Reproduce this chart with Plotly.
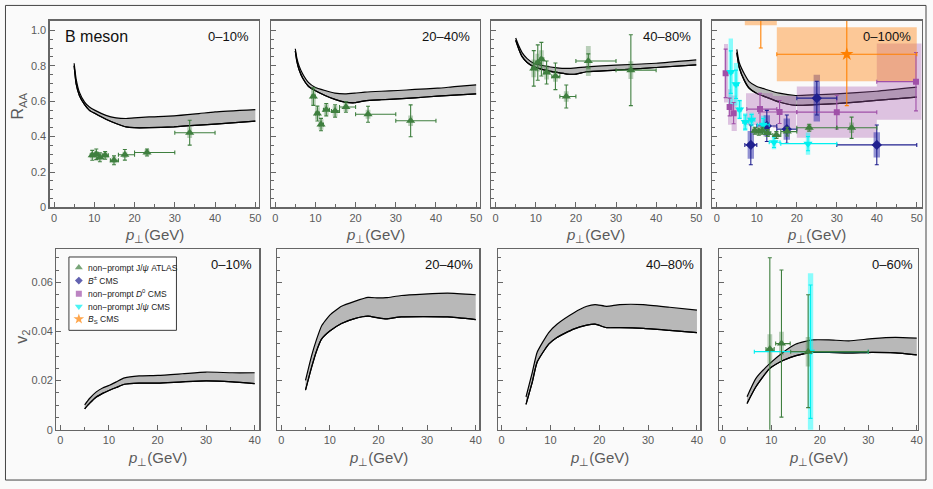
import plotly.graph_objects as go

W, H = 933, 489
FONT = "Liberation Sans, Arial, sans-serif"
FRAME = "#666666"
TICKC = "#5a5a5a"
BG = "#fafafa"
BAND = "#b8b8b8"

# ---------------- theory bands: R_AA ----------------
raa_c1_x = [5, 5.5, 6.3, 7.6, 8.8, 10.2, 12.9, 15.4, 17.9, 19.9, 23.6, 29.8, 36, 40, 50]
raa_c1_up = [0.814, 0.725, 0.651, 0.595, 0.567, 0.548, 0.52, 0.506, 0.502, 0.506, 0.511, 0.517, 0.53, 0.539, 0.552]
raa_c1_lo = [0.80, 0.697, 0.632, 0.58, 0.548, 0.53, 0.498, 0.474, 0.455, 0.45, 0.45, 0.455, 0.465, 0.47, 0.487]

raa_c2_x = [5, 5.36, 5.94, 6.85, 8.25, 9.9, 12.4, 14.85, 17.3, 19.8, 22.3, 26.4, 30.5, 34.7, 40.4, 44.6, 50]
raa_c2_up = [0.896, 0.846, 0.799, 0.753, 0.706, 0.679, 0.66, 0.645, 0.641, 0.645, 0.651, 0.656, 0.66, 0.666, 0.673, 0.682, 0.692]
raa_c2_lo = [0.883, 0.827, 0.777, 0.729, 0.684, 0.66, 0.632, 0.61, 0.595, 0.591, 0.602, 0.608, 0.613, 0.619, 0.628, 0.634, 0.641]

raa_c3_x = [5, 5.8, 6.6, 7.85, 9.5, 12, 15.3, 17.8, 20.1, 22.7, 30, 40, 50]
raa_c3_up = [0.957, 0.911, 0.874, 0.84, 0.814, 0.8, 0.788, 0.785, 0.788, 0.794, 0.803, 0.814, 0.833]
raa_c3_lo = [0.944, 0.892, 0.851, 0.818, 0.794, 0.777, 0.762, 0.753, 0.753, 0.766, 0.775, 0.79, 0.805]

raa_c4_x = [5, 5.6, 6.9, 8.1, 9.9, 12.3, 15.6, 19.7, 24.7, 29.9, 39.9, 50]
raa_c4_up = [0.892, 0.818, 0.753, 0.71, 0.684, 0.666, 0.645, 0.632, 0.636, 0.641, 0.656, 0.679]
raa_c4_lo = [0.874, 0.79, 0.716, 0.673, 0.645, 0.623, 0.595, 0.576, 0.58, 0.586, 0.604, 0.623]

# ---------------- theory bands: v2 ----------------
v2_c1_x = [5, 6, 7.4, 8.7, 10.1, 11.5, 13.2, 16.2, 20.1, 25.1, 30, 35.4, 40]
v2_c1_up = [0.0101, 0.0127, 0.0154, 0.017, 0.0181, 0.0195, 0.0211, 0.0219, 0.0221, 0.0228, 0.0235, 0.0232, 0.0232]
v2_c1_lo = [0.0085, 0.0107, 0.0133, 0.0148, 0.0161, 0.0172, 0.0185, 0.019, 0.019, 0.0195, 0.0199, 0.0195, 0.0188]

v2_c2_x = [5, 6.26, 7.29, 8.3, 10, 12.4, 15.1, 17.85, 19.9, 21.6, 24.7, 34.2, 40]
v2_c2_up = [0.0201, 0.0302, 0.0369, 0.0423, 0.0467, 0.0503, 0.0523, 0.0539, 0.0537, 0.0538, 0.0547, 0.0557, 0.055]
v2_c2_lo = [0.0161, 0.0255, 0.0322, 0.0369, 0.0402, 0.0433, 0.0453, 0.0463, 0.0456, 0.0452, 0.046, 0.046, 0.0449]

v2_c3_x = [5, 6.3, 7.27, 9.65, 11.34, 14.74, 17.45, 19.15, 21.5, 24.2, 29, 34.4, 40]
v2_c3_up = [0.0134, 0.0235, 0.0315, 0.0396, 0.043, 0.0476, 0.0503, 0.051, 0.0503, 0.051, 0.051, 0.0499, 0.0487]
v2_c3_lo = [0.0103, 0.0195, 0.0275, 0.0349, 0.0376, 0.041, 0.0426, 0.043, 0.0416, 0.0416, 0.0413, 0.0405, 0.0396]

v2_c4_x = [5, 6.8, 9.6, 12.4, 15.1, 18.5, 21.9, 26, 30.8, 35.6, 40]
v2_c4_up = [0.0134, 0.0208, 0.0268, 0.0315, 0.0349, 0.0366, 0.0366, 0.0362, 0.0371, 0.0376, 0.0373]
v2_c4_lo = [0.0107, 0.0174, 0.0248, 0.0282, 0.0302, 0.0315, 0.0315, 0.0313, 0.0315, 0.0313, 0.0305]

# ---------------- ATLAS non-prompt J/psi R_AA ----------------
atlas_x = [9.5, 10.5, 11.4, 12.7, 14.9, 17.6, 23.1, 33.7]
atlas_xm = [0.5, 0.5, 0.4, 0.7, 0.9, 1.6, 3.1, 3.7]
atlas_xp = [0.5, 0.5, 0.6, 0.8, 1.1, 2.4, 6.9, 6.3]
atlas_c1_y = [0.294, 0.30, 0.283, 0.294, 0.266, 0.297, 0.31, 0.422]
atlas_c1_stat = [0.028, 0.03, 0.025, 0.022, 0.025, 0.03, 0.02, 0.07]
atlas_c1_sys = [0.018, 0.018, 0.018, 0.018, 0.018, 0.018, 0.018, 0.03]
atlas_c2_y = [0.626, 0.53, 0.468, 0.552, 0.545, 0.567, 0.526, 0.489]
atlas_c2_stat = [0.05, 0.042, 0.035, 0.035, 0.035, 0.03, 0.045, 0.09]
atlas_c2_sys = [0.05, 0.035, 0.03, 0.03, 0.03, 0.025, 0.025, 0.03]
atlas_c3_y = [0.785, 0.818, 0.837, 0.762, 0.74, 0.626, 0.827, 0.775]
atlas_c3_stat = [0.1, 0.1, 0.095, 0.065, 0.075, 0.065, 0.04, 0.2]
atlas_c3_sys = [0.05, 0.05, 0.05, 0.04, 0.03, 0.03, 0.085, 0.05]
atlas_c4_y = [0.433, 0.428, 0.433, 0.42, 0.409, 0.428, 0.45, 0.45]
atlas_c4_stat = [0.02, 0.02, 0.02, 0.02, 0.02, 0.025, 0.02, 0.06]
atlas_c4_sys = [0.02, 0.02, 0.02, 0.02, 0.02, 0.02, 0.02, 0.03]
atlas_box_hw = 0.6

# ---------------- CMS B+- R_AA (0-100%) ----------------
bpm_x = [8.5, 12.5, 17.5, 25, 40]
bpm_xe = [1.5, 2.5, 2.5, 5, 10]
bpm_y = [0.353, 0.46, 0.442, 0.617, 0.353]
bpm_stat = [0.112, 0.088, 0.08, 0.095, 0.112]
bpm_sys = [0.078, 0.06, 0.06, 0.132, 0.071]
bpm_box_hw = 0.8

# ---------------- CMS non-prompt D0 R_AA (0-100%) ----------------
d0_x = [2.2, 3.2, 4.2, 10.8, 15.7, 30.0, 49.8]
d0_y = [0.757, 0.567, 0.532, 0.555, 0.539, 0.538, 0.71]
d0_stat = [0.137, 0.05, 0.06, 0.09, 0.065, 0.095, 0.165]
d0_xm = [0.2, 0.4, 0.5, 3.3, 5.2, 10, 9.8]
d0_xp = [0.2, 0.4, 0.5, 4.2, 4.3, 10, 0.2]
d0_box_lo = [1.8, 2.8, 3.7, 7.3, 14.0, 20, 40]
d0_box_hi = [2.8, 3.7, 5.0, 14.0, 19.8, 40, 52]
d0_sys = [0.165, 0.1, 0.1, 0.09, 0.09, 0.145, 0.215]

# ---------------- CMS non-prompt J/psi R_AA (0-100%) ----------------
cjp_x = [3.5, 4.8, 5.7, 7.1, 8.7, 11.6, 14.3, 22.8]
cjp_y = [0.764, 0.695, 0.553, 0.482, 0.495, 0.467, 0.368, 0.36]
cjp_stat = [0.12, 0.08, 0.05, 0.04, 0.03, 0.035, 0.03, 0.04]
cjp_xm = [0.5, 0.5, 0.5, 0.6, 0.7, 1.5, 1.2, 6.8]
cjp_xp = [0.5, 0.6, 0.5, 0.9, 0.8, 1.5, 1.5, 7.2]
cjp_sys = [0.19, 0.12, 0.055, 0.05, 0.04, 0.05, 0.04, 0.063]
cjp_box_hw = 0.55

# ---------------- CMS Bs R_AA (0-100%) ----------------
bs_x = [11, 32.5]
bs_xe = [4, 17.5]
bs_y = [1.12, 0.865]
bs_stat = [0.22, 0.29]
bs_sys = [0.092, 0.152]

# ---------------- v2 data (0-60%) ----------------
atlas_v2_x = [9.7, 12.1, 17.6]
atlas_v2_xm = [0.8, 1.2, 3.6]
atlas_v2_xp = [0.9, 1.8, 12.4]
atlas_v2_y = [0.0329, 0.0351, 0.0318]
atlas_v2_statp = [0.0372, 0.030, 0.0232]
atlas_v2_statm = [0.034, 0.030, 0.0228]
atlas_v2_sys = [0.006, 0.0048, 0.006]
atlas_v2_box_hw = 0.5

cjp_v2_x = [18.1]
cjp_v2_xm = [11.6]
cjp_v2_xp = [11.9]
cjp_v2_y = [0.0318]
cjp_v2_stat = [0.0272]
cjp_v2_sys = [0.032]
cjp_v2_box_hw = 0.55

# ---------------- colours ----------------
GREEN = "#3f7f3f"
GREEN_BOX = "rgba(63,127,63,0.35)"
BLUE = "#20208f"
BLUE_BOX = "rgba(40,40,170,0.5)"
PURPLE = "#a050a8"
PURPLE_BOX = "rgba(165,90,175,0.35)"
CYAN = "#00f0f0"
CYAN_BOX = "rgba(0,255,255,0.45)"
ORANGE = "#ff8000"
ORANGE_BOX = "rgba(255,140,30,0.45)"

fig = go.Figure()


def axn(i):
    return ("x", "y") if i == 1 else (f"x{i}", f"y{i}")


def band(i, x, up, lo):
    xa, ya = axn(i)
    ln = dict(color="black", width=1.2, shape="spline", smoothing=0.5)
    fig.add_trace(go.Scatter(x=x, y=lo, mode="lines", line=ln, xaxis=xa, yaxis=ya,
                             hoverinfo="skip", showlegend=False))
    fig.add_trace(go.Scatter(x=x, y=up, mode="lines", line=ln, fill="tonexty", fillcolor=BAND,
                             xaxis=xa, yaxis=ya, hoverinfo="skip", showlegend=False))
    fig.add_trace(go.Scatter(x=x, y=lo, mode="lines", line=ln, xaxis=xa, yaxis=ya,
                             hoverinfo="skip", showlegend=False))


def boxes(i, xlo, xhi, ylo, yhi, color):
    xa, ya = axn(i)
    xs, ys = [], []
    for a, b, c, d in zip(xlo, xhi, ylo, yhi):
        xs += [a, b, b, a, a, None]
        ys += [c, c, d, d, c, None]
    fig.add_trace(go.Scatter(x=xs, y=ys, mode="lines", fill="toself", fillcolor=color,
                             line=dict(width=0, color=color), xaxis=xa, yaxis=ya,
                             hoverinfo="skip", showlegend=False))


def points(i, x, y, eyp, eym, exp, exm, color, symbol, size):
    xa, ya = axn(i)
    fig.add_trace(go.Scatter(
        x=x, y=y, mode="markers", xaxis=xa, yaxis=ya, showlegend=False,
        marker=dict(color=color, symbol=symbol, size=size, line=dict(width=0)),
        error_y=dict(type="data", symmetric=False, array=eyp, arrayminus=eym,
                     color=color, thickness=1.1, width=2),
        error_x=dict(type="data", symmetric=False, array=exp, arrayminus=exm,
                     color=color, thickness=1.1, width=2)))


def sym_boxes(i, x, y, sys, hw, color):
    boxes(i, [a - hw for a in x], [a + hw for a in x],
          [b - s for b, s in zip(y, sys)], [b + s for b, s in zip(y, sys)], color)


# ---- top row: R_AA ----
band(1, raa_c1_x, raa_c1_up, raa_c1_lo)
band(2, raa_c2_x, raa_c2_up, raa_c2_lo)
band(3, raa_c3_x, raa_c3_up, raa_c3_lo)
band(4, raa_c4_x, raa_c4_up, raa_c4_lo)

for i, yy, st, sy in [(1, atlas_c1_y, atlas_c1_stat, atlas_c1_sys),
                      (2, atlas_c2_y, atlas_c2_stat, atlas_c2_sys),
                      (3, atlas_c3_y, atlas_c3_stat, atlas_c3_sys)]:
    sym_boxes(i, atlas_x, yy, sy, atlas_box_hw, GREEN_BOX)
    points(i, atlas_x, yy, st, st, atlas_xp, atlas_xm, GREEN, "triangle-up", 8)

# panel 4 (0-100%)
boxes(4, d0_box_lo, d0_box_hi, [b - s for b, s in zip(d0_y, d0_sys)],
      [b + s for b, s in zip(d0_y, d0_sys)], PURPLE_BOX)
sym_boxes(4, bpm_x, bpm_y, bpm_sys, bpm_box_hw, BLUE_BOX)
sym_boxes(4, cjp_x, cjp_y, cjp_sys, cjp_box_hw, CYAN_BOX)
sym_boxes(4, atlas_x, atlas_c4_y, atlas_c4_sys, atlas_box_hw, GREEN_BOX)
boxes(4, [a - e for a, e in zip(bs_x, bs_xe)], [a + e for a, e in zip(bs_x, bs_xe)],
      [b - s for b, s in zip(bs_y, bs_sys)], [b + s for b, s in zip(bs_y, bs_sys)], ORANGE_BOX)

points(4, d0_x, d0_y, d0_stat, d0_stat, d0_xp, d0_xm, PURPLE, "square", 6)
points(4, bpm_x, bpm_y, bpm_stat, bpm_stat, bpm_xe, bpm_xe, BLUE, "diamond", 8)
points(4, cjp_x, cjp_y, cjp_stat, cjp_stat, cjp_xp, cjp_xm, CYAN, "triangle-down", 8)
points(4, atlas_x, atlas_c4_y, atlas_c4_stat, atlas_c4_stat, atlas_xp, atlas_xm, GREEN, "triangle-up", 8)
points(4, bs_x, bs_y, bs_stat, bs_stat, bs_xe, bs_xe, ORANGE, "star", 10)

# ---- bottom row: v2 ----
band(5, v2_c1_x, v2_c1_up, v2_c1_lo)
band(6, v2_c2_x, v2_c2_up, v2_c2_lo)
band(7, v2_c3_x, v2_c3_up, v2_c3_lo)
band(8, v2_c4_x, v2_c4_up, v2_c4_lo)

sym_boxes(8, cjp_v2_x, cjp_v2_y, cjp_v2_sys, cjp_v2_box_hw, CYAN_BOX)
sym_boxes(8, atlas_v2_x, atlas_v2_y, atlas_v2_sys, atlas_v2_box_hw, GREEN_BOX)
points(8, cjp_v2_x, cjp_v2_y, cjp_v2_stat, cjp_v2_stat, cjp_v2_xp, cjp_v2_xm, CYAN, "triangle-down", 8)
points(8, atlas_v2_x, atlas_v2_y, atlas_v2_statp, atlas_v2_statm, atlas_v2_xp, atlas_v2_xm,
       GREEN, "triangle-up", 8)

# ---- legend (inside the bottom-left panel) ----
leg_labels = ["non\u2212prompt J/<i>\u03c8</i> ATLAS", "<i>B</i><sup>\u00b1</sup> CMS",
              "non\u2212prompt <i>D</i><sup>0</sup> CMS", "non\u2212prompt J/<i>\u03c8</i> CMS",
              "<i>B</i><sub>S</sub> CMS"]
leg_colors = [GREEN, BLUE, PURPLE, CYAN, ORANGE]
leg_symbols = ["triangle-up", "diamond", "square", "triangle-down", "star"]
leg_sizes = [7, 6, 6, 7, 8]
leg_y = [0.0661, 0.0608, 0.0554, 0.0502, 0.0451]
leg_marker_x = 3.8
leg_text_x = 5.3

fig.add_trace(go.Scatter(x=[leg_marker_x] * len(leg_y), y=leg_y, mode="markers", xaxis="x5", yaxis="y5",
                         marker=dict(color=leg_colors, symbol=leg_symbols, size=leg_sizes, line=dict(width=0)),
                         hoverinfo="skip", showlegend=False))

shapes = [dict(type="rect", xref="x5", yref="y5", x0=1.76, x1=23.9, y0=0.0405, y1=0.0704,
               line=dict(color="#3a3a3a", width=1), fillcolor="#ffffff", layer="below"),
          dict(type="rect", xref="paper", yref="paper", x0=5.5 / W, x1=931 / W, y0=1 - 486 / H, y1=1 - 5.5 / H,
               line=dict(color="#444444", width=1), layer="below")]

annotations = []
for lab, yy in zip(leg_labels, leg_y):
    annotations.append(dict(xref="x5", yref="y5", x=leg_text_x, y=yy, text=lab, showarrow=False,
                            xanchor="left", yanchor="middle", font=dict(size=8.5, color="#222222", family=FONT)))

# ---- axes ----
top_dom = [(50, 260.5), (272.7, 482.3), (494, 704), (715.7, 926.5)]
top_rng = [[-1.06, 50.94], [-0.99, 50.89], [-1.07, 50.99], [-1.24, 51.19]]
bot_dom = [(56.7, 260.7), (278.3, 482), (500.7, 704), (722.7, 922.7)]
bot_rng = [[-0.82, 40.96], [-0.90, 40.76], [-0.73, 40.67], [-0.82, 40.21]]
top_y = (21, 210)
bot_y = (252, 435)

layout = {}


def xcfg(dom, rng, i, maxv):
    return dict(domain=[dom[0] / W, dom[1] / W], range=rng, anchor=("y" if i == 1 else f"y{i}"),
                showline=True, mirror=True, linecolor=FRAME, linewidth=1.3,
                ticks="inside", ticklen=5, tickwidth=1, tickcolor=FRAME,
                tickmode="array", tickvals=list(range(0, maxv + 1, 10)),
                ticktext=[str(v) for v in range(0, maxv + 1, 10)],
                tickfont=dict(size=11, color=TICKC, family=FONT),
                showgrid=False, zeroline=False,
                minor=dict(tickmode="linear", tick0=0, dtick=5, ticks="inside", ticklen=3,
                           tickwidth=1, tickcolor=FRAME, showgrid=False))


def ycfg(domy, rng, i, vals, texts, minor_dt, labels):
    return dict(domain=[1 - domy[1] / H, 1 - domy[0] / H], range=rng, anchor=("x" if i == 1 else f"x{i}"),
                showline=True, mirror=True, linecolor=FRAME, linewidth=1.3,
                ticks="inside", ticklen=5, tickwidth=1, tickcolor=FRAME,
                tickmode="array", tickvals=vals, ticktext=texts, showticklabels=labels,
                tickfont=dict(size=11, color=TICKC, family=FONT),
                showgrid=False, zeroline=False,
                minor=dict(tickmode="linear", tick0=0, dtick=minor_dt, ticks="inside", ticklen=3,
                           tickwidth=1, tickcolor=FRAME, showgrid=False))


raa_ticks = [0, 0.2, 0.4, 0.6, 0.8, 1.0]
raa_ticktext = ["0", "0.2", "0.4", "0.6", "0.8", "1.0"]
v2_ticks = [0, 0.02, 0.04, 0.06]
v2_ticktext = ["0", "0.02", "0.04", "0.06"]

for k in range(4):
    i = k + 1
    xk = "xaxis" if i == 1 else f"xaxis{i}"
    yk = "yaxis" if i == 1 else f"yaxis{i}"
    layout[xk] = xcfg(top_dom[k], top_rng[k], i, 50)
    layout[yk] = ycfg(top_y, [0, 1.054], i, raa_ticks, raa_ticktext, 0.05, k == 0)
    j = k + 5
    layout[f"xaxis{j}"] = xcfg(bot_dom[k], bot_rng[k], j, 40)
    layout[f"yaxis{j}"] = ycfg(bot_y, [0, 0.0737], j, v2_ticks, v2_ticktext, 0.005, k == 0)


def pa(px, py, text, size, color, xanchor="center", angle=0, yanchor="middle"):
    annotations.append(dict(xref="paper", yref="paper", x=px / W, y=1 - py / H, text=text,
                            showarrow=False, xanchor=xanchor, yanchor=yanchor, textangle=angle,
                            font=dict(size=size, color=color, family=FONT)))


xtitle = "<i>p</i><sub>\u22a5</sub>(GeV)"
for d in top_dom:
    pa((d[0] + d[1]) / 2, 238, xtitle, 15, "#5a5a5a")
for d in bot_dom:
    pa((d[0] + d[1]) / 2, 464, xtitle, 15, "#5a5a5a")

pa(19, 107, "R<sub>AA</sub>", 16, "#5a5a5a", angle=-90)
pa(23, 341, "v<sub>2</sub>", 16, "#5a5a5a", angle=-90)

pa(63.3, 36.7, "B meson", 16, "#111111", xanchor="left")
top_labels = ["0\u201310%", "20\u201340%", "40\u201380%", "0\u2013100%"]
top_label_right = [252, 474.5, 696.5, 917.5]
for t, r in zip(top_labels, top_label_right):
    pa(r, 36.7, t, 13, "#111111", xanchor="right")
bot_labels = ["0\u201310%", "20\u201340%", "40\u201380%", "0\u201360%"]
bot_label_right = [255, 477.5, 699.5, 920]
for t, r in zip(bot_labels, bot_label_right):
    pa(r, 268, t, 13, "#111111", xanchor="right")

fig.update_layout(
    width=W, height=H, autosize=False,
    margin=dict(l=0, r=0, t=0, b=0, pad=0),
    paper_bgcolor=BG, plot_bgcolor=BG,
    showlegend=False,
    font=dict(family=FONT),
    shapes=shapes, annotations=annotations,
    **layout,
)

fig.write_html("out.html", config={"displayModeBar": False, "staticPlot": True},
               post_script="document.body.style.margin='0';document.body.style.overflow='hidden';")
